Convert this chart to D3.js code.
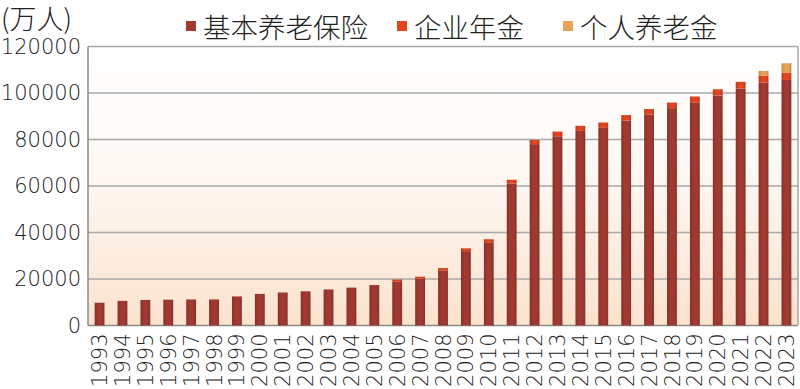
<!DOCTYPE html>
<html>
<head>
<meta charset="utf-8">
<script src="https://cdn.jsdelivr.net/npm/d3@7"></script>
<style>
  body { margin: 0; background: #fff; }
  svg { display: block; }
  .num { font-family: "DejaVu Sans", sans-serif; font-weight: 200; font-size: 21px; fill: #222; }
  .cjk { font-family: "Noto Sans CJK SC", sans-serif; font-weight: 300; fill: #222; }
</style>
</head>
<body>
<script>
// data (万人)
const years = d3.range(1993, 2024).map(String);
const basic = [9800, 10600, 11000, 11100, 11200, 11200, 12500, 13600, 14200, 14700,
  15500, 16300, 17400, 18800, 20100, 23700, 32000, 35800, 61100, 78000,
  81400, 83700, 85000, 88200, 90800, 93500, 96000, 98900, 101900, 104500, 105600];
const annuity = [0, 0, 0, 0, 0, 0, 0, 0, 0, 0,
  0, 0, 0, 1000, 900, 1000, 1200, 1300, 1600, 1800,
  2000, 2200, 2300, 2300, 2300, 2400, 2500, 2700, 2900, 3000, 3200];
const personal = [0, 0, 0, 0, 0, 0, 0, 0, 0, 0,
  0, 0, 0, 0, 0, 0, 0, 0, 0, 0,
  0, 0, 0, 0, 0, 0, 0, 0, 0, 2000, 4000];
const seriesNames = ["基本养老保险", "企业年金", "个人养老金"];
const yTicks = [0, 20000, 40000, 60000, 80000, 100000, 120000];

const w = 800, h = 389;
const plotL = 88, plotR = 798, plotT = 46.5, plotB = 325.5;
const colors = ["#a03a31", "#e0461f", "#e9a15a"];

const rows = years.map((yr, i) => ({ year: yr, b: basic[i], a: annuity[i], p: personal[i] }));
const stack = d3.stack().keys(["b", "a", "p"])(rows);

const svg = d3.select("body").append("svg")
  .attr("width", w)
  .attr("height", h);

const defs = svg.append("defs");
const bg = defs.append("linearGradient").attr("id", "bg")
  .attr("x1", 0).attr("y1", 0).attr("x2", 0).attr("y2", 1);
bg.append("stop").attr("offset", "0%").attr("stop-color", "#ffffff");
bg.append("stop").attr("offset", "45%").attr("stop-color", "#fef8f3");
bg.append("stop").attr("offset", "100%").attr("stop-color", "#fbe2cd");

// slight 3d look on bars
colors.forEach((c, i) => {
  const g = defs.append("linearGradient").attr("id", "bar" + i)
    .attr("x1", 0).attr("y1", 0).attr("x2", 1).attr("y2", 0);
  const dark = d3.color(c).darker(0.5);
  g.append("stop").attr("offset", "0%").attr("stop-color", dark);
  g.append("stop").attr("offset", "35%").attr("stop-color", c);
  g.append("stop").attr("offset", "70%").attr("stop-color", c);
  g.append("stop").attr("offset", "100%").attr("stop-color", dark);
});

const x = d3.scaleBand()
  .domain(years)
  .range([plotL, plotR])
  .paddingInner(0.57)
  .paddingOuter(0.29);

const y = d3.scaleLinear()
  .domain([0, 120000])
  .range([plotB, plotT]);

// plot background
svg.append("rect")
  .attr("x", plotL).attr("y", plotT)
  .attr("width", plotR - plotL).attr("height", plotB - plotT)
  .style("fill", "url(#bg)");

// gridlines
svg.append("g").selectAll("line")
  .data(yTicks)
  .join("line")
  .attr("x1", plotL).attr("x2", plotR)
  .attr("y1", d => y(d)).attr("y2", d => y(d))
  .style("stroke", d => d === 0 ? "#8a8a8a" : "#a9a9a9")
  .style("stroke-width", 1.5);

// frame left/right
svg.append("line").attr("x1", plotL).attr("x2", plotL).attr("y1", plotT).attr("y2", plotB)
  .style("stroke", "#8a8a8a").style("stroke-width", 1.5);
svg.append("line").attr("x1", plotR).attr("x2", plotR).attr("y1", plotT).attr("y2", plotB)
  .style("stroke", "#a9a9a9").style("stroke-width", 1.5);

// bars
svg.append("g").selectAll("g")
  .data(stack)
  .join("g")
  .style("fill", (d, i) => `url(#bar${i})`)
  .selectAll("rect")
  .data(d => d.filter(s => s[1] > s[0]))
  .join("rect")
  .attr("x", d => x(d.data.year))
  .attr("width", x.bandwidth())
  .attr("y", d => y(d[1]))
  .attr("height", d => y(d[0]) - y(d[1]));

// y axis
const yAxis = svg.append("g")
  .attr("transform", `translate(${plotL},0)`)
  .call(d3.axisLeft(y).tickValues(yTicks).tickSize(0).tickPadding(7).tickFormat(d3.format("d")));
yAxis.select(".domain").remove();
yAxis.selectAll("text").attr("class", "num");

// x axis
const xAxis = svg.append("g")
  .attr("transform", `translate(0,${plotB})`)
  .call(d3.axisBottom(x).tickSize(0));
xAxis.select(".domain").remove();
xAxis.selectAll("text")
  .attr("class", "num")
  .attr("transform", "rotate(-90)")
  .attr("text-anchor", "end")
  .attr("x", -8)
  .attr("y", 0)
  .attr("dy", "0.36em");

// unit
svg.append("text")
  .attr("class", "cjk")
  .attr("x", 1).attr("y", 17)
  .attr("dominant-baseline", "central")
  .style("font-size", "27px")
  .text("(万人)");

// legend
const legendX = [186, 397, 563];
const legend = svg.append("g").selectAll("g")
  .data(seriesNames)
  .join("g")
  .attr("transform", (d, i) => `translate(${legendX[i]},0)`);
legend.append("rect")
  .attr("x", 0).attr("y", 21)
  .attr("width", 10).attr("height", 10)
  .style("fill", (d, i) => colors[i]);
legend.append("text")
  .attr("class", "cjk")
  .attr("x", 17).attr("y", 26)
  .attr("dominant-baseline", "central")
  .style("font-size", "27.5px")
  .text(d => d);
</script>
</body>
</html>
